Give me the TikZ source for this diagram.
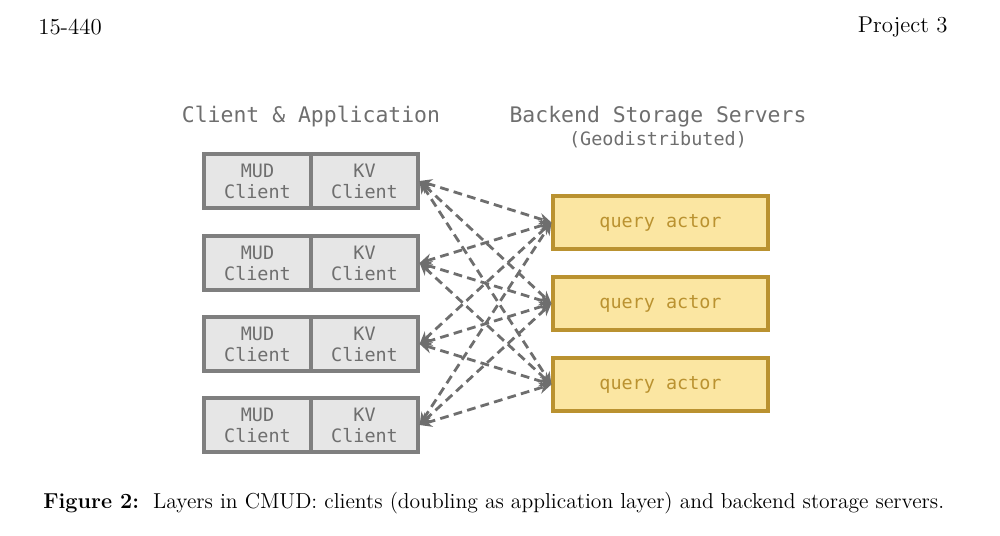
\documentclass[tikz,border=0pt]{standalone}
\usepackage{fontspec}
\usepackage{xcolor}
\usetikzlibrary{arrows.meta}
\newfontfamily\diagfont{DejaVu Sans Mono}

\definecolor{boxgray}{HTML}{E6E6E6}
\definecolor{linegray}{HTML}{7F7F7F}
\definecolor{textgray}{HTML}{6E6E6E}
\definecolor{actorfill}{HTML}{FBE6A2}
\definecolor{actorline}{HTML}{BA9230}

\tikzset{
	client/.style = {draw=linegray, fill=boxgray, line width=1.8pt,
		minimum width=2.14cm, minimum height=1.08cm, inner sep=0pt,
		align=center, text=textgray, font=\diagfont\fontsize{10.5}{12}\selectfont},
	actor/.style = {draw=actorline, fill=actorfill, line width=1.8pt,
		minimum width=4.3cm, minimum height=1.06cm, inner sep=0pt,
		text=actorline, font=\diagfont\fontsize{10.5}{12}\selectfont},
	heading/.style = {text=textgray, font=\diagfont\fontsize{12.2}{14}\selectfont},
	link/.style = {{Stealth[length=7pt,width=6.5pt]}-{Stealth[length=7pt,width=6.5pt]},
		draw=textgray, line width=1.6pt, dash pattern=on 5pt off 3pt}
}

\begin{document}
\begin{tikzpicture}
	\useasboundingbox (0,0) rectangle (20,10.72);
	
	\node[anchor=west, inner sep=0pt, font=\fontsize{13}{15}\selectfont] (course) at (0.76,10.18) {15-440};
	\node[anchor=east, inner sep=0pt, font=\fontsize{13}{15}\selectfont] (proj) at (18.96,10.18) {Project 3};
	
	\node[heading] (apptitle) at (6.22,8.38) {Client \& Application};
	\node[heading] (backtitle) at (13.16,8.38) {Backend Storage Servers};
	\node[heading, font=\diagfont\fontsize{10.5}{12}\selectfont] (geo) at (13.16,7.92) {(Geodistributed)};
	
	
	\node[client] (mud1) at (5.15,7.10) {MUD\\Client};
	\node[client] (kv1) at (7.29,7.10) {KV\\Client};
	
	\node[client] (mud2) at (5.15,5.46) {MUD\\Client};
	\node[client] (kv2) at (7.29,5.46) {KV\\Client};
	
	\node[client] (mud3) at (5.15,3.84) {MUD\\Client};
	\node[client] (kv3) at (7.29,3.84) {KV\\Client};
	
	\node[client] (mud4) at (5.15,2.22) {MUD\\Client};
	\node[client] (kv4) at (7.29,2.22) {KV\\Client};
	
	\node[actor] (qa1) at (13.21,6.27) {query actor};
	\node[actor] (qa2) at (13.21,4.65) {query actor};
	\node[actor] (qa3) at (13.21,3.03) {query actor};
	
	\draw[link] (kv1.east) -- (qa1.west);
	\draw[link] (kv1.east) -- (qa2.west);
	\draw[link] (kv1.east) -- (qa3.west);
	
	\draw[link] (kv2.east) -- (qa1.west);
	\draw[link] (kv2.east) -- (qa2.west);
	\draw[link] (kv2.east) -- (qa3.west);
	
	\draw[link] (kv3.east) -- (qa1.west);
	\draw[link] (kv3.east) -- (qa2.west);
	\draw[link] (kv3.east) -- (qa3.west);
	
	\draw[link] (kv4.east) -- (qa1.west);
	\draw[link] (kv4.east) -- (qa2.west);
	\draw[link] (kv4.east) -- (qa3.west);
	
	
	\node[anchor=west, inner sep=0pt, font=\fontsize{12.3}{14}\selectfont] (caption) at (0.86,0.66)
		{\textbf{Figure 2:}\ \ Layers in CMUD: clients (doubling as application layer) and backend storage servers.};
	
\end{tikzpicture}
\end{document}
